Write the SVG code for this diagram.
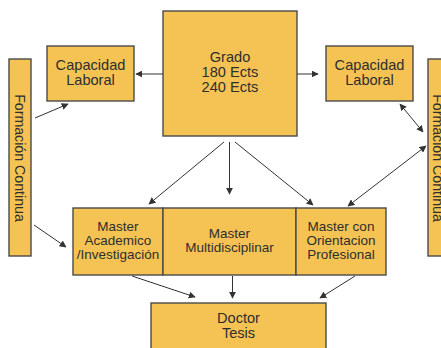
<svg xmlns="http://www.w3.org/2000/svg" width="441" height="348" viewBox="0 0 441 348">
<defs>
<marker id="ah" viewBox="0 0 10 10" refX="9" refY="5" markerWidth="7" markerHeight="7" markerUnits="userSpaceOnUse" orient="auto-start-reverse">
<path d="M0,0 L10,5 L0,10 z" fill="#333"/>
</marker>
<style>
.box{fill:#F4C354;stroke:#4a4a4a;stroke-width:1.4}
.t{font-family:"Liberation Sans",Arial,sans-serif;fill:#2e2e2e;text-anchor:middle}
.l{stroke:#333;stroke-width:1;fill:none;marker-end:url(#ah)}
.d{marker-start:url(#ah)}
</style>
</defs>
<rect width="441" height="348" fill="#fff"/>
<g id="grado"><rect class="box" x="163" y="11" width="134" height="125" stroke="#666"/>
<text class="t" font-size="14.6" x="230" y="62">Grado</text>
<text class="t" font-size="14.6" x="230" y="77">180 Ects</text>
<text class="t" font-size="14.6" x="230" y="92">240 Ects</text></g>
<g id="cap-left"><rect class="box" x="47" y="46" width="87" height="55"/>
<text class="t" font-size="14.6" x="90.5" y="70">Capacidad</text>
<text class="t" font-size="14.6" x="90.5" y="85">Laboral</text></g>
<g id="cap-right"><rect class="box" x="326" y="46" width="87" height="55"/>
<text class="t" font-size="14.6" x="369.5" y="70">Capacidad</text>
<text class="t" font-size="14.6" x="369.5" y="85">Laboral</text></g>
<g id="fc-left"><rect class="box" x="9" y="59" width="22" height="197"/>
<text class="t" font-size="14.2" transform="translate(15,158) rotate(90)">Formación Continua</text></g>
<g id="fc-right"><rect class="box" x="428" y="59" width="22" height="197"/>
<text class="t" font-size="14.2" transform="translate(433,158) rotate(90)">Formación Continua</text></g>
<g id="m-acad"><rect class="box" x="73" y="208" width="90" height="67"/>
<text class="t" font-size="13.5" x="118" y="231">Master</text>
<text class="t" font-size="13.5" x="118" y="245">Academico</text>
<text class="t" font-size="13.5" x="118" y="259">/Investigación</text></g>
<g id="m-multi"><rect class="box" x="163" y="208" width="133" height="67"/>
<text class="t" font-size="13.5" x="229.5" y="238">Master</text>
<text class="t" font-size="13.5" x="229.5" y="252">Multidisciplinar</text></g>
<g id="m-prof"><rect class="box" x="296" y="208" width="90" height="67"/>
<text class="t" font-size="13.5" x="341" y="231">Master con</text>
<text class="t" font-size="13.5" x="341" y="245">Orientacion</text>
<text class="t" font-size="13.5" x="341" y="259">Profesional</text></g>
<g id="doctor"><rect class="box" x="151" y="303" width="175" height="55"/>
<text class="t" font-size="14.6" x="238.5" y="323">Doctor</text>
<text class="t" font-size="14.6" x="238.5" y="338">Tesis</text></g>
<g id="connectors">
<line class="l" x1="163" y1="74" x2="136" y2="74"/>
<line class="l" x1="297" y1="74" x2="318" y2="74"/>
<line class="l" x1="35" y1="118" x2="68" y2="104"/>
<line class="l d" x1="400" y1="104" x2="423" y2="132"/>
<line class="l d" x1="348" y1="206" x2="426" y2="146"/>
<line class="l" x1="224" y1="142" x2="149" y2="204"/>
<line class="l" x1="229.5" y1="142" x2="229.5" y2="194"/>
<line class="l" x1="235" y1="142" x2="313" y2="205"/>
<line class="l" x1="34" y1="225" x2="66" y2="247"/>
<line class="l" x1="132" y1="276" x2="195" y2="297"/>
<line class="l" x1="232.5" y1="276" x2="232.5" y2="298"/>
<line class="l" x1="355" y1="276" x2="320" y2="298"/>
</g>
</svg>
